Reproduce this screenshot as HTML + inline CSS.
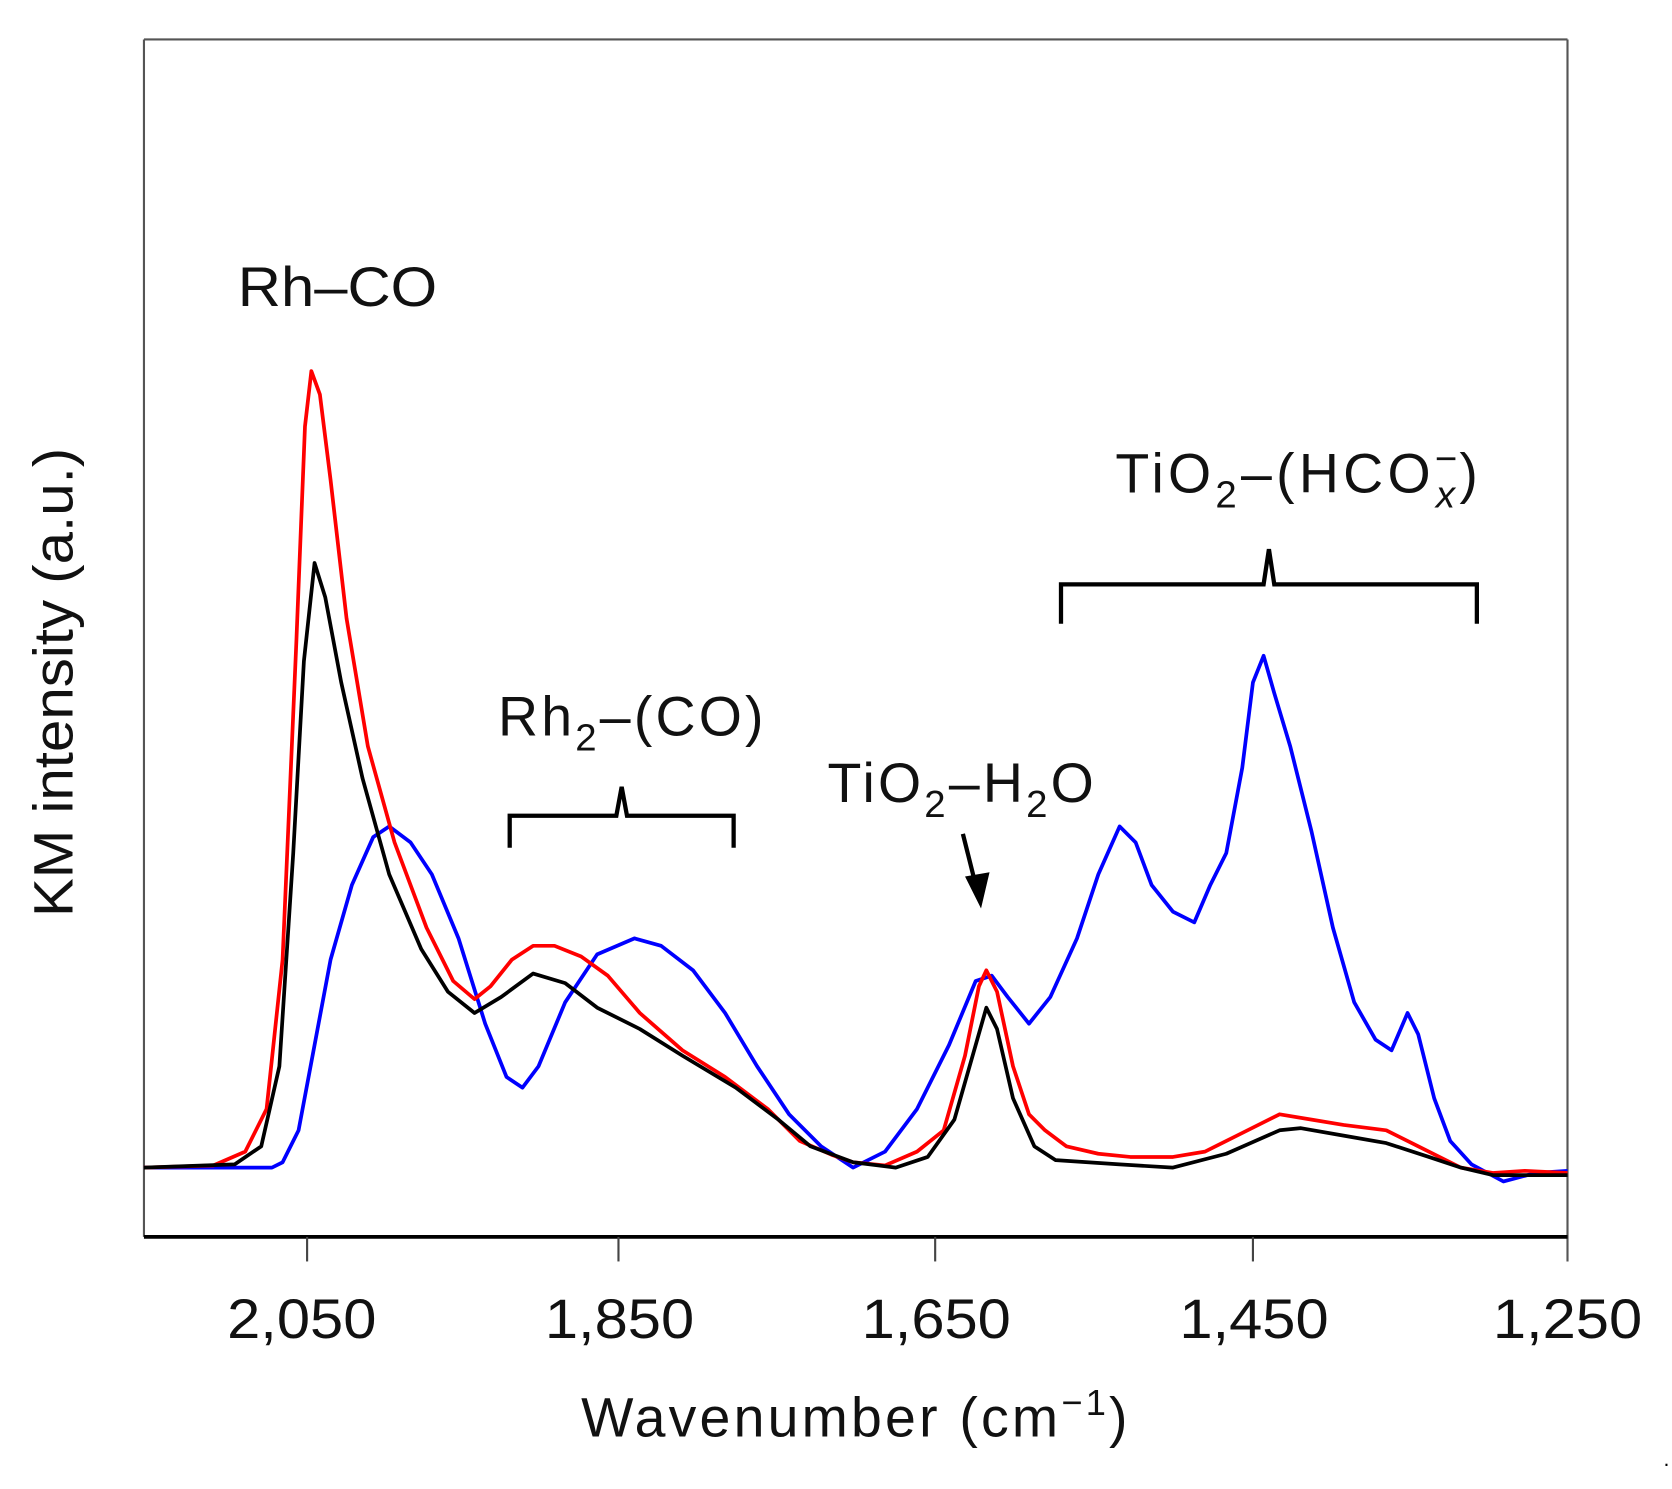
<!DOCTYPE html>
<html><head><style>html,body{margin:0;padding:0;background:#fff}svg{display:block}</style></head>
<body>
<svg width="1672" height="1489" viewBox="0 0 1568 1396.4" preserveAspectRatio="none" xmlns="http://www.w3.org/2000/svg" font-family="Liberation Sans, Arial, sans-serif">
<rect width="1568" height="1397" fill="#fff"/>
<line x1="135" y1="37" x2="1470" y2="37" stroke="#555" stroke-width="2"/>
<line x1="135" y1="37" x2="135" y2="1160" stroke="#555" stroke-width="2"/>
<line x1="1470" y1="37" x2="1470" y2="1183" stroke="#555" stroke-width="2"/>
<line x1="135" y1="1160" x2="1470" y2="1160" stroke="#000" stroke-width="3.5"/>
<g stroke="#444" stroke-width="2">
<line x1="288" y1="1160" x2="288" y2="1183"/>
<line x1="580" y1="1160" x2="580" y2="1183"/>
<line x1="877" y1="1160" x2="877" y2="1183"/>
<line x1="1175" y1="1160" x2="1175" y2="1183"/>
</g>
<g font-size="52" fill="#111">
<text x="213" y="1255" textLength="140" lengthAdjust="spacingAndGlyphs">2,050</text>
<text x="511" y="1255" textLength="140" lengthAdjust="spacingAndGlyphs">1,850</text>
<text x="808" y="1255" textLength="140" lengthAdjust="spacingAndGlyphs">1,650</text>
<text x="1106" y="1255" textLength="140" lengthAdjust="spacingAndGlyphs">1,450</text>
<text x="1400" y="1255" textLength="140" lengthAdjust="spacingAndGlyphs">1,250</text>
<text x="545" y="1347" letter-spacing="3">Wavenumber (cm<tspan font-size="34" dy="-20">−1</tspan><tspan dy="20">)</tspan></text>
<text transform="translate(68,860) rotate(-90)" textLength="440" lengthAdjust="spacingAndGlyphs">KM intensity (a.u.)</text>
</g>
<text x="1560" y="1375" font-size="20">.</text>
<g fill="none" stroke-width="3.5" stroke-linejoin="round">
<polyline stroke="#0000ff" points="135,1095 255,1095 265,1090 280,1060 295,980 310,900 330,830 350,785 365,775 385,790 405,820 430,880 455,960 475,1010 490,1020 505,1000 530,940 560,895 595,880 620,887 650,910 680,950 710,1000 740,1045 770,1075 800,1095 830,1080 860,1040 890,980 915,920 930,915 945,935 965,960 985,935 1010,880 1030,820 1050,775 1065,790 1080,830 1100,855 1120,865 1135,830 1150,800 1165,720 1175,640 1185,615 1195,650 1210,700 1230,780 1250,870 1270,940 1290,975 1305,985 1320,950 1330,970 1345,1030 1360,1070 1380,1092 1410,1108 1440,1100 1470,1098"/>
<polyline stroke="#ff0000" points="135,1095 200,1093 230,1080 250,1040 265,900 278,600 286,400 292,348 300,370 310,450 325,580 345,700 370,790 400,870 425,920 445,937 460,925 480,900 500,887 520,887 545,897 570,915 600,950 640,985 680,1010 720,1040 750,1070 780,1083 800,1090 830,1093 860,1080 885,1060 905,990 918,925 925,910 935,930 950,1000 965,1045 980,1060 1000,1075 1030,1082 1060,1085 1100,1085 1130,1080 1160,1065 1200,1045 1230,1050 1260,1055 1300,1060 1330,1075 1370,1095 1400,1100 1430,1098 1470,1100"/>
<polyline stroke="#000" points="135,1095 220,1092 245,1075 262,1000 275,800 285,620 295,528 305,560 320,640 340,730 365,820 395,890 420,930 445,950 470,935 500,913 530,922 560,945 600,965 640,990 690,1020 730,1050 760,1075 800,1090 840,1095 870,1085 895,1050 915,980 925,945 935,965 950,1030 970,1075 990,1088 1050,1092 1100,1095 1150,1082 1200,1060 1220,1058 1260,1065 1300,1072 1340,1085 1370,1095 1400,1102 1470,1102"/>
</g>
<g font-size="52" fill="#111">
<text x="223" y="287" textLength="187" lengthAdjust="spacingAndGlyphs">Rh–CO</text>
<text x="467" y="690" letter-spacing="3">Rh<tspan font-size="36" dy="14">2</tspan><tspan dy="-14">–(CO)</tspan></text>
<text x="776" y="752" letter-spacing="3">TiO<tspan font-size="36" dy="14">2</tspan><tspan dy="-14">–H</tspan><tspan font-size="36" dy="14">2</tspan><tspan dy="-14">O</tspan></text>
<text x="1046" y="462" letter-spacing="4">TiO<tspan font-size="36" dy="14">2</tspan><tspan dy="-14">–(HCO</tspan><tspan font-size="36" dy="-20">−</tspan><tspan font-size="36" font-style="italic" dx="-24" dy="34">x</tspan><tspan dy="-14">)</tspan></text>
</g>
<g fill="none" stroke="#000" stroke-width="4">
<path d="M478,795 V765 H578 L583,738 L588,765 H688 V795"/>
<path d="M995,585 V548 H1185 L1190,515 L1195,548 H1385 V585"/>
<line x1="903" y1="782" x2="915" y2="830"/>
</g>
<polygon points="905,822 928,818 920,852" fill="#000"/>
</svg>
</body></html>
